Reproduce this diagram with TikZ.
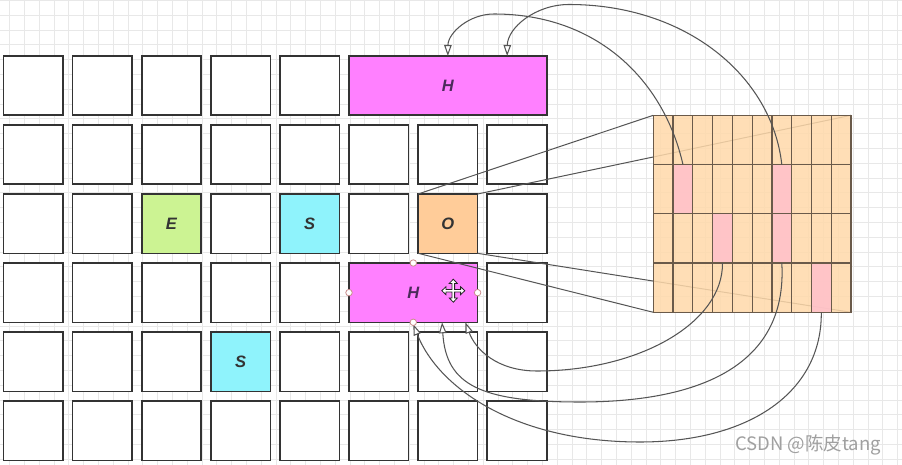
\documentclass[tikz,border=0pt]{standalone}
\usepackage{fontspec}
\setmainfont{Liberation Sans}
\newfontfamily\cjkfont{Noto Sans CJK SC}
\usetikzlibrary{arrows.meta,calc}
\definecolor{gridc}{HTML}{E8E8E8}
\definecolor{boxline}{HTML}{333333}
\definecolor{hfill}{HTML}{FF80FF}
\definecolor{efill}{HTML}{CCF393}
\definecolor{sfill}{HTML}{8FF3FC}
\definecolor{ofill}{HTML}{FFCC99}
\definecolor{mfill}{HTML}{FFD9AA}
\definecolor{pfill}{HTML}{FFC0CB}
\definecolor{mline}{HTML}{6A5A4A}
\definecolor{conn}{HTML}{555555}
\definecolor{handlec}{HTML}{C98C8C}
\definecolor{wm}{HTML}{A0A0A0}
\definecolor{hlbl}{HTML}{4B2B5A}
\definecolor{lblc}{HTML}{333333}
\begin{document}
\begin{tikzpicture}[x=1pt,y=-1pt,
  cell/.style={draw=boxline,line width=1.6pt,fill=white,minimum width=59.5pt,minimum height=59.3pt,inner sep=0pt,outer sep=0pt,
    font=\fontsize{16.5}{19}\selectfont\bfseries\itshape,text=lblc},
  pinkc/.style={fill=pfill,fill opacity=0.85,draw=none,minimum width=19.77pt,minimum height=49.25pt,inner sep=0pt,outer sep=0pt},
  oline/.style={draw=conn,line width=1pt},
  curve/.style={draw=conn,line width=1.05pt,-{Triangle[length=11pt,width=7.5pt,fill=white]}},
  handle/.style={circle,draw=handlec,fill=white,line width=0.8pt,minimum size=6.5pt,inner sep=0pt}
]
\useasboundingbox (0,0) rectangle (902,465);
\fill[white] (0,0) rectangle (902,465);
% background grid
\foreach \i in {0,...,60} \draw[gridc,line width=0.7pt] ({9.5+14.8*\i},0) -- ({9.5+14.8*\i},465);
\foreach \i in {0,...,31} \draw[gridc,line width=0.7pt] (0,{0.4+14.8*\i}) -- (902,{0.4+14.8*\i});
% white cells
\foreach \r/\cs in {0/{0,1,2,3,4},1/{0,1,2,3,4,5,6,7},2/{0,1,3,5,7},3/{0,1,2,3,4,7},4/{0,1,2,4,5,6,7},5/{0,1,2,3,4,5,6,7}}{
  \foreach \c in \cs {
    \node[cell] (b\r-\c) at ({33.25+69.1*\c},{85.65+69*\r}) {};
  }
}
% coloured cells
\node[cell,fill=efill] (E) at ({33.25+69.1*2},{85.65+69*2}) {E};
\node[cell,fill=sfill] (S1) at ({33.25+69.1*4},{85.65+69*2}) {S};
\node[cell,fill=ofill] (O) at ({33.25+69.1*6},{85.65+69*2}) {O};
\node[cell,fill=sfill] (S2) at ({33.25+69.1*3},{85.65+69*4}) {S};
\node[cell,fill=hfill,minimum width=197.7pt,text=hlbl] (H1) at (447.85,85.65) {H};
\node[cell,fill=hfill,minimum width=128.6pt,text=hlbl] (H2) at (413.3,292.65) {H};
% matrix frame node
\node[draw=none,minimum width=197.7pt,minimum height=197pt,inner sep=0pt,outer sep=0pt] (M) at (752.15,213.8) {};
% projection lines from O to the matrix
\draw[oline] (O.north west) -- (M.north west);
\draw[oline] (O.north east) -- (M.north east);
\draw[oline] (O.south west) -- (M.south west);
\draw[oline] (O.south east) -- (M.south east);
% matrix
\fill[mfill,fill opacity=0.85] (M.north west) rectangle (M.south east);
\node[pinkc] (pA) at (682.96,189.2) {};
\node[pinkc] (pB) at (781.80,189.2) {};
\node[pinkc] (pC) at (722.50,238.4) {};
\node[pinkc] (pD) at (781.80,238.4) {};
\node[pinkc] (pE) at (821.30,287.7) {};
\foreach \k in {1,...,9} \draw[mline,line width=1.3pt] ({653.3+19.77*\k},115.3) -- ({653.3+19.77*\k},312.3);
\foreach \k in {1,2,3} \draw[mline,line width=1.3pt] (653.3,{115.3+49.25*\k}) -- (851,{115.3+49.25*\k});
\draw[mline,line width=1.3pt] (M.north west) rectangle (M.south east);
% curved arrows
\draw[curve] (pA.north) .. controls (664,81) and (598,14) .. (494,14) .. controls (469,14) and (448,33) .. (H1.north);
\draw[curve] (pB.north) .. controls (772,76) and (686,4.5) .. (569,4.5) .. controls (535.5,4.5) and (507.5,27.7) .. ($(H1.north west)!0.8!(H1.north east)$);
\draw[curve] (pC.south) .. controls (723,323) and (639,371) .. (537,371) .. controls (497,371) and (475.4,349.5) .. ($(H2.south west)!0.905!(H2.south east)$);
\draw[curve] (pD.south) .. controls (788,370) and (692,402) .. (580,402) .. controls (480,402) and (446,385) .. ($(H2.south west)!0.724!(H2.south east)$);
\draw[curve] (pE.south) .. controls (822,392) and (750,442) .. (640,442) .. controls (516,442) and (438.6,388.5) .. ($(H2.south)+(0,2)$);
% selection handles
\node[handle] (hN) at (H2.north) {};
\node[handle] (hW) at (H2.west) {};
\node[handle] (hE) at (H2.east) {};
\node[handle] (hS) at (H2.south) {};
% move cursor
\begin{scope}[shift={(453.3,290.7)}]
\draw[fill=white,draw=black!85,line width=0.8pt,line join=miter]
 (0,-11.5) -- (4,-7.3) -- (1.3,-7.3) -- (1.3,-1.3) -- (7.3,-1.3) -- (7.3,-4) -- (11.5,0) -- (7.3,4) -- (7.3,1.3) -- (1.3,1.3)
 -- (1.3,7.3) -- (4,7.3) -- (0,11.5) -- (-4,7.3) -- (-1.3,7.3) -- (-1.3,1.3) -- (-7.3,1.3) -- (-7.3,4) -- (-11.5,0)
 -- (-7.3,-4) -- (-7.3,-1.3) -- (-1.3,-1.3) -- (-1.3,-7.3) -- (-4,-7.3) -- cycle;
\end{scope}
% watermark
\node[anchor=base west,text=wm,font=\cjkfont\fontsize{18.5}{20}\selectfont,inner sep=0pt] (wmk) at (735,450) {CSDN @陈皮tang};
\end{tikzpicture}
\end{document}
